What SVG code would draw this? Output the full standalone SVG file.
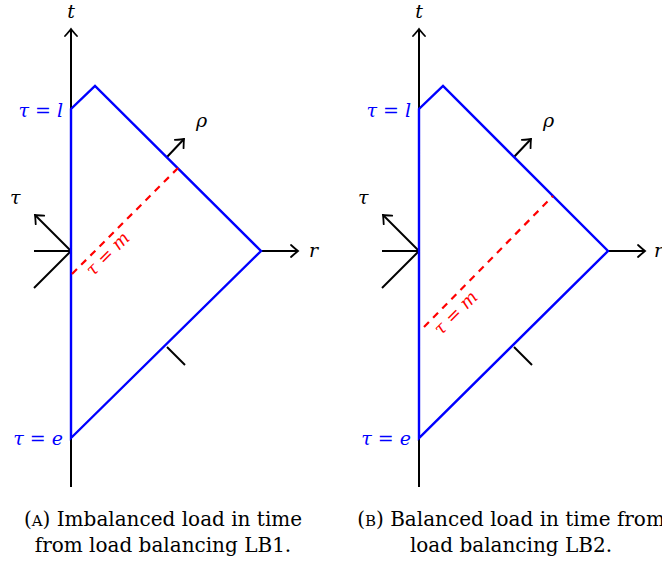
<svg xmlns="http://www.w3.org/2000/svg" width="662" height="561" viewBox="0 0 662 561">
<defs>
<marker id="arr" viewBox="-10 -8 12 16" markerWidth="12" markerHeight="16" refX="0" refY="0" orient="auto" markerUnits="userSpaceOnUse">
<path d="M-7,-6 Q-2,-1.5 0,0 Q-2,1.5 -7,6" fill="none" stroke="#000" stroke-width="1.8" stroke-linecap="round"/>
</marker>
</defs>
<style>
.ax{stroke:#000;stroke-width:2;fill:none}
.ar{stroke:#000;stroke-width:2;fill:none;marker-end:url(#arr)}
.bl{stroke:#0000ff;stroke-width:2.4;fill:none;stroke-linejoin:miter}
.rd{stroke:#ff0000;stroke-width:2.2;fill:none;stroke-dasharray:7,6}
.m{font-style:italic;font-size:19px}
.mb{font-style:italic;font-size:19px;fill:#0000ff}
.mr{font-style:italic;font-size:18px;fill:#ff0000}
.cap{font-size:20px;fill:#000;text-anchor:middle}
</style>
<g id="connectors">
<line class="ar" x1="71" y1="487" x2="71" y2="29"/>
<line class="ar" x1="261" y1="251" x2="298" y2="251"/>
<line class="ax" x1="34" y1="251" x2="71" y2="251"/>
<line class="ar" x1="71" y1="251" x2="35" y2="215"/>
<line class="ax" x1="71" y1="251" x2="34" y2="288"/>
<line class="ar" x1="167" y1="157" x2="184" y2="139"/>
<line class="ax" x1="167" y1="347" x2="185" y2="365"/>
<line class="ar" x1="419" y1="487" x2="419" y2="29"/>
<line class="ar" x1="608" y1="251" x2="645" y2="251"/>
<line class="ax" x1="382" y1="251" x2="419" y2="251"/>
<line class="ar" x1="419" y1="251" x2="383" y2="215"/>
<line class="ax" x1="419" y1="251" x2="382" y2="288"/>
<line class="ar" x1="514" y1="157" x2="531" y2="139"/>
<line class="ax" x1="514" y1="347" x2="532" y2="365"/>
</g>
<g id="regionA">
<path class="bl" d="M71,438 L71,109 L95,86 L261,251 L71,438 Z"/>
<line class="rd" x1="72" y1="274" x2="178" y2="168"/>
</g>
<g id="regionB">
<path class="bl" d="M419,438 L419,109 L443,86 L608,251 L419,438 Z"/>
<line class="rd" x1="424" y1="327" x2="553" y2="196"/>
</g>
<g id="labelsA" font-family="'DejaVu Serif', serif">
<text class="m" x="71" y="18" text-anchor="middle">t</text>
<text class="m" x="309" y="257">r</text>
<text class="m" x="10" y="204">τ</text>
<text class="m" x="196" y="127">ρ</text>
<text class="mb" x="63" y="117" text-anchor="end">τ = l</text>
<text class="mb" x="63" y="445" text-anchor="end">τ = e</text>
<text class="mr" x="112" y="258" text-anchor="middle" transform="rotate(-45 112 258)">τ = m</text>
</g>
<g id="labelsB" font-family="'DejaVu Serif', serif">
<text class="m" x="419" y="18" text-anchor="middle">t</text>
<text class="m" x="654" y="257">r</text>
<text class="m" x="358" y="204">τ</text>
<text class="m" x="543" y="127">ρ</text>
<text class="mb" x="411" y="117" text-anchor="end">τ = l</text>
<text class="mb" x="411" y="445" text-anchor="end">τ = e</text>
<text class="mr" x="460" y="317" text-anchor="middle" transform="rotate(-45 460 317)">τ = m</text>
</g>
<g id="captionA" font-family="'DejaVu Serif', serif">
<text class="cap" x="163" y="526">(<tspan font-size="15">A</tspan>) Imbalanced load in time</text>
<text class="cap" x="163" y="552">from load balancing LB1.</text>
</g>
<g id="captionB" font-family="'DejaVu Serif', serif">
<text class="cap" x="511" y="526">(<tspan font-size="15">B</tspan>) Balanced load in time from</text>
<text class="cap" x="511" y="552">load balancing LB2.</text>
</g>
</svg>
